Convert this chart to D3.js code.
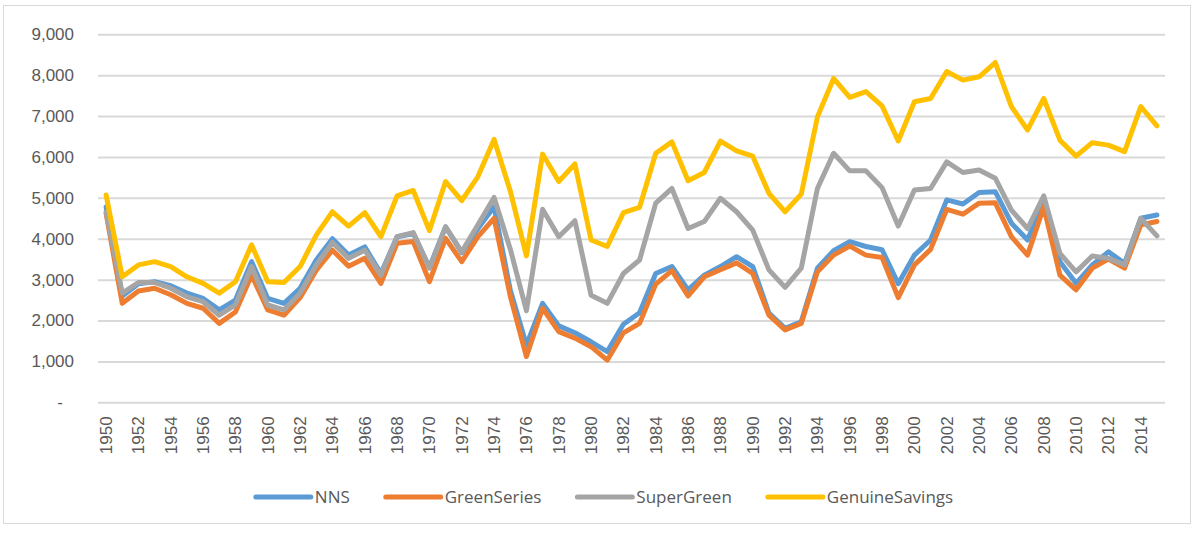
<!DOCTYPE html>
<html>
<head>
<meta charset="utf-8">
<style>
  body { margin: 0; background: #fff; }
  svg { font-family: "Open Sans", sans-serif; }
  .tick text { fill: #595959; }
</style>
</head>
<body>
<script src="https://d3js.org/d3.v7.min.js"></script>
<div id="chart"></div>
<script>

var years = d3.range(1950, 2016);

var nns = [4780, 2600, 2900, 2950, 2850, 2670, 2540, 2260, 2500, 3440, 2540, 2420, 2790, 3480, 4000,
  3600, 3800, 3150, 4050, 4130, 3300, 4290, 3660, 4250, 4780, 2750, 1400, 2420, 1870, 1700, 1480, 1240,
  1910, 2190, 3150, 3320, 2750, 3110, 3320, 3560, 3320, 2180, 1810, 1970, 3280, 3710, 3930, 3810, 3730, 2900,
  3600, 3970, 4950, 4850, 5130, 5150, 4380, 3970, 4950, 3440, 2910, 3360, 3680, 3400, 4500, 4580];

var greenSeries = [4620, 2420, 2720, 2790, 2630, 2420, 2300, 1930, 2210, 3110, 2260, 2130, 2560, 3230, 3720,
  3330, 3520, 2910, 3890, 3930, 2950, 4010, 3440, 4050, 4500, 2600, 1120, 2300, 1730, 1570, 1360, 1030,
  1700, 1930, 2890, 3220, 2600, 3070, 3240, 3410, 3150, 2130, 1770, 1930, 3190, 3600, 3820, 3600, 3540, 2560,
  3360, 3740, 4720, 4600, 4870, 4880, 4050, 3600, 4780, 3110, 2750, 3280, 3500, 3280, 4340, 4420];

var superGreen = [4660, 2670, 2930, 2930, 2790, 2580, 2460, 2130, 2380, 3320, 2380, 2260, 2670, 3360, 3910,
  3520, 3720, 3110, 4050, 4150, 3280, 4290, 3680, 4340, 5010, 3750, 2240, 4720, 4050, 4440, 2620, 2420,
  3150, 3480, 4870, 5230, 4250, 4420, 4990, 4660, 4210, 3240, 2810, 3280, 5230, 6090, 5660, 5660, 5250, 4310,
  5190, 5230, 5880, 5620, 5680, 5480, 4700, 4250, 5050, 3640, 3190, 3580, 3520, 3360, 4500, 4070];

var genuineSavings = [5070, 3070, 3360, 3440, 3320, 3070, 2910, 2670, 2950, 3850, 2950, 2930, 3320, 4090, 4660,
  4310, 4640, 4050, 5050, 5180, 4200, 5400, 4930, 5520, 6430, 5170, 3580, 6070, 5400, 5830, 3970, 3810,
  4640, 4770, 6090, 6370, 5420, 5620, 6390, 6150, 6020, 5110, 4660, 5090, 6980, 7920, 7460, 7600, 7250, 6390,
  7350, 7430, 8090, 7880, 7960, 8310, 7230, 6660, 7430, 6410, 6020, 6350, 6290, 6130, 7230, 6760];

var seriesNames = ["NNS", "GreenSeries", "SuperGreen", "GenuineSavings"];
var seriesColors = ["#5B9BD5", "#ED7D31", "#A5A5A5", "#FFC000"];
var yTicks = [0, 1000, 2000, 3000, 4000, 5000, 6000, 7000, 8000, 9000];
var xTicks = years.filter(function(y) { return (y - 1950) % 2 === 0; });

var W = 1195, H = 534;
var plotLeft = 98, plotRight = 1165, plotTop = 34.3, plotBottom = 402.3;

var svg = d3.select("#chart").append("svg")
  .attr("width", W).attr("height", H);

svg.append("rect")
  .attr("x", 3.5).attr("y", 5.5)
  .attr("width", 1187).attr("height", 518)
  .attr("fill", "#fff").attr("stroke", "#D9D9D9").attr("stroke-width", 1);

var x = d3.scaleBand().domain(years).range([plotLeft, plotRight]);
var y = d3.scaleLinear().domain([0, 9000]).range([plotBottom, plotTop]);
var cx = function(yr) { return x(yr) + x.bandwidth() / 2; };

// y axis + gridlines
var yAxis = svg.append("g")
  .attr("transform", "translate(" + plotLeft + ",0)")
  .call(d3.axisLeft(y)
    .tickValues(yTicks)
    .tickSize(-(plotRight - plotLeft))
    .tickPadding(24)
    .tickFormat(function(d) { return d === 0 ? "-" : d3.format(",")(d); }));
yAxis.select(".domain").remove();
yAxis.selectAll(".tick line").attr("stroke", "#D9D9D9").attr("stroke-width", 2);
yAxis.selectAll(".tick text")
  .style("font-size", "17px")
  .attr("dx", function(d) { return d === 0 ? -11 : 0; });

// x axis labels
var xAxis = svg.append("g")
  .attr("transform", "translate(0," + plotBottom + ")")
  .call(d3.axisBottom(x).tickValues(xTicks).tickSize(0));
xAxis.select(".domain").remove();
xAxis.selectAll(".tick text")
  .style("font-size", "17px")
  .style("text-anchor", "end")
  .attr("transform", "rotate(-90)")
  .attr("x", -14)
  .attr("y", 0)
  .attr("dy", "0.35em");

// lines
var allSeries = [nns, greenSeries, superGreen, genuineSavings];
var line = d3.line()
  .x(function(d, i) { return cx(years[i]); })
  .y(function(d) { return y(d); });

svg.selectAll(".series")
  .data(allSeries)
  .enter()
  .append("path")
    .attr("class", "series")
    .attr("d", line)
    .attr("fill", "none")
    .attr("stroke", function(d, i) { return seriesColors[i]; })
    .attr("stroke-width", 5)
    .attr("stroke-linejoin", "round")
    .attr("stroke-linecap", "round");

// legend
var legend = svg.append("g");
var lx = 0;
seriesNames.forEach(function(name, i) {
  var g = legend.append("g").attr("transform", "translate(" + lx + ",0)");
  g.append("line")
    .attr("x1", 3).attr("x2", 58).attr("y1", 0).attr("y2", 0)
    .attr("stroke", seriesColors[i]).attr("stroke-width", 5)
    .attr("stroke-linecap", "round");
  var t = g.append("text")
    .attr("x", 62).attr("y", 0).attr("dy", "0.35em")
    .style("font-size", "17px").attr("fill", "#595959")
    .text(name);
  lx += 62 + t.node().getComputedTextLength() + 33;
});
var lw = lx - 33;
legend.attr("transform", "translate(" + (603 - lw / 2) + ",497)");

</script>
</body>
</html>
